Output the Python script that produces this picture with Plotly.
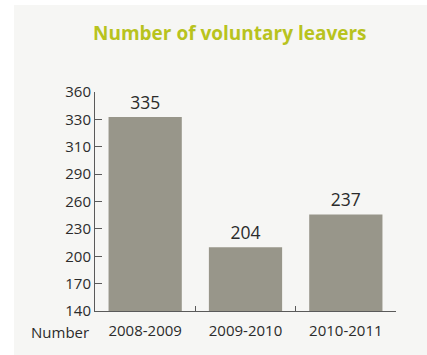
import plotly.graph_objects as go

# Voluntary leavers per financial year
years = ["2008-2009", "2009-2010", "2010-2011"]
leavers = [335, 204, 237]

# Y axis: evenly spaced ticks over 140-360 with the printed labels
y_min, y_max = 140, 360
tick_labels = ["140", "170", "200", "230", "260", "290", "310", "330", "360"]
step = (y_max - y_min) / (len(tick_labels) - 1)
tick_vals = [y_min + i * step for i in range(len(tick_labels))]

text_color = "#2b2b2b"
axis_color = "#5a5a5a"
bar_color = "#98968a"
title_color = "#b8c31e"
panel_color = "#f6f6f4"
font_family = "Open Sans"

fig = go.Figure()
fig.add_trace(go.Bar(
    x=years,
    y=leavers,
    marker=dict(color=bar_color, line=dict(width=0)),
    width=0.73,
    text=[str(v) for v in leavers],
    textposition="outside",
    textfont=dict(size=17.5, color=text_color, family=font_family),
    cliponaxis=False,
    hoverinfo="skip",
))

fig.update_layout(
    width=427,
    height=355,
    margin=dict(l=95, r=31, t=92, b=44),
    paper_bgcolor="white",
    plot_bgcolor="rgba(0,0,0,0)",
    showlegend=False,
    font=dict(family=font_family, color=text_color, size=15),
    shapes=[dict(
        type="rect", xref="paper", yref="paper",
        x0=(14 - 95) / 301, x1=(440 - 95) / 301,
        y0=(311 - 360) / 219, y1=(311 - 5) / 219,
        fillcolor=panel_color, line=dict(width=0), layer="below",
    )],
    annotations=[
        dict(
            text="<b>Number of voluntary leavers</b>",
            xref="paper", yref="paper",
            x=(230 - 95) / 301, y=(311 - 33) / 219,
            xanchor="center", yanchor="middle", showarrow=False,
            font=dict(size=19, color=title_color, family=font_family),
        ),
        dict(
            text="Number",
            xref="paper", yref="paper",
            x=(91 - 95) / 301, y=(311 - 332) / 219,
            xanchor="right", yanchor="middle", showarrow=False,
            font=dict(size=15, color=text_color, family=font_family),
        ),
    ],
)

fig.update_xaxes(
    type="category",
    range=[-0.5, 2.5],
    showline=True, linecolor=axis_color, linewidth=1,
    ticks="inside", tickson="boundaries", ticklen=5,
    tickcolor=axis_color, tickwidth=1,
    ticklabelstandoff=6,
    showgrid=False, zeroline=False,
    tickfont=dict(size=15, color=text_color),
)
fig.update_yaxes(
    range=[y_min, y_max],
    tickmode="array",
    tickvals=tick_vals,
    ticktext=tick_labels,
    showline=True, linecolor=axis_color, linewidth=1,
    ticks="inside", ticklen=7, tickcolor=axis_color, tickwidth=1,
    showgrid=False, zeroline=False,
    tickfont=dict(size=15, color=text_color),
)

fig.write_html("out.html")
